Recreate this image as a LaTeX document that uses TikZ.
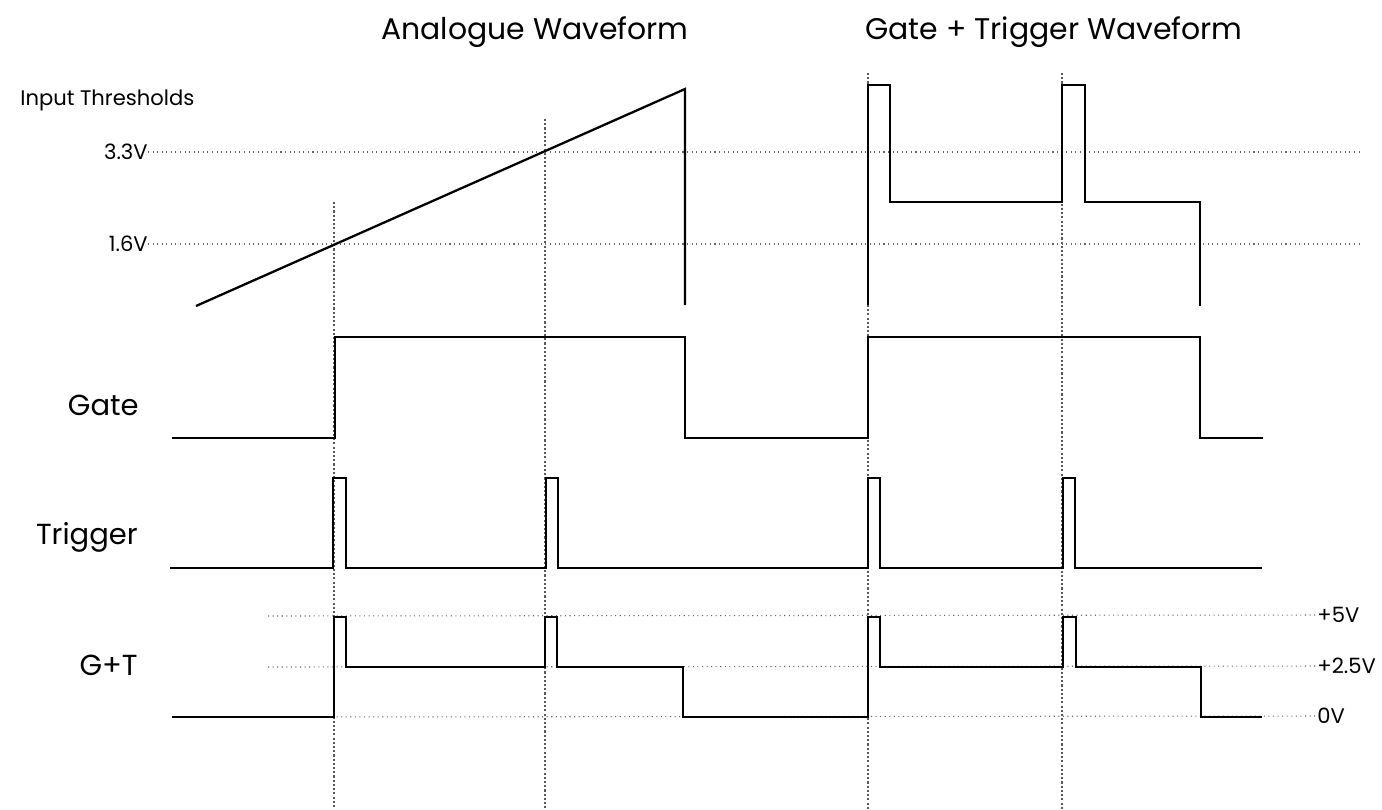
\documentclass[tikz,border=0pt]{standalone}
\usepackage{fontspec}
\setmainfont{Poppins}
\begin{document}
\begin{tikzpicture}[x=0.02cm,y=-0.02cm,
  wave/.style={line width=1.3pt,line join=miter},
  grid/.style={gray!80!black,dotted,line width=0.6pt},
  vgrid/.style={gray!70!black,dash pattern=on 1.2pt off 1.2pt,line width=0.75pt},
  title/.style={font=\fontsize{17}{20}\selectfont,inner sep=0pt},
  sig/.style={font=\fontsize{16.5}{18}\selectfont,inner sep=0pt,anchor=east},
  volt/.style={font=\fontsize{12}{13}\selectfont,inner sep=0pt},
  small/.style={font=\fontsize{12}{13}\selectfont,inner sep=0pt}]
\useasboundingbox (0,0) rectangle (1382,809);
% titles
\node[title] (t1) at (535,32) {Analogue Waveform};
\node[title] (t2) at (1054,32) {Gate + Trigger Waveform};
% threshold labels
\node[small,anchor=west] (inp) at (20,100) {Input Thresholds};
\node[volt,anchor=east] (v33) at (148,152) {3.3V};
\node[volt,anchor=east] (v16) at (148,244) {1.6V};
% signal labels
\node[sig] (lg) at (139,405) {Gate};
\node[sig] (lt) at (138,537) {Trigger};
\node[sig] (lgt) at (138,665) {G+T};
% right voltage labels
\node[volt,anchor=west] (p5) at (1317,615) {+5V};
\node[volt,anchor=west] (p25) at (1317,666) {+2.5V};
\node[volt,anchor=west] (p0) at (1317,716) {0V};
% horizontal threshold lines
\draw[grid] (v33.east) -- (1362,152);
\draw[grid] (v16.east) -- (1362,244);
\draw[grid] (268,616) -- (p5.west);
\draw[grid] (268,667) -- (p25.west);
\draw[grid] (268,717) -- (p0.west);
% vertical dotted lines
\draw[vgrid] (334,202) -- (334,809);
\draw[vgrid] (545,119) -- (545,809);
\draw[vgrid] (868,73) -- (868,809);
\draw[vgrid] (1062,73) -- (1062,809);
% analogue ramp
\draw[wave] (196,306) -- (685,89) -- (685,305);
% gate+trigger analogue waveform
\draw[wave] (868,305) -- (868,85) -- (890,85) -- (890,202) -- (1062,202) -- (1062,85) -- (1085,85) -- (1085,202) -- (1200,202) -- (1200,306);
% gate
\draw[wave] (172,438) -- (335,438) -- (335,337) -- (685,337) -- (685,438) -- (868,438) -- (868,337) -- (1200,337) -- (1200,438) -- (1263,438);
% trigger
\draw[wave] (170,568) -- (333,568) -- (333,478) -- (346,478) -- (346,568) -- (546,568) -- (546,478) -- (558,478) -- (558,568) -- (868,568) -- (868,478) -- (880,478) -- (880,568) -- (1063,568) -- (1063,478) -- (1075,478) -- (1075,568) -- (1262,568);
% G+T
\draw[wave] (172,717) -- (334,717) -- (334,617) -- (346,617) -- (346,667) -- (545,667) -- (545,617) -- (557,617) -- (557,667) -- (683,667) -- (683,717) -- (868,717) -- (868,617) -- (880,617) -- (880,667) -- (1063,667) -- (1063,617) -- (1076,617) -- (1076,667) -- (1201,667) -- (1201,717) -- (1262,717);
\end{tikzpicture}
\end{document}
